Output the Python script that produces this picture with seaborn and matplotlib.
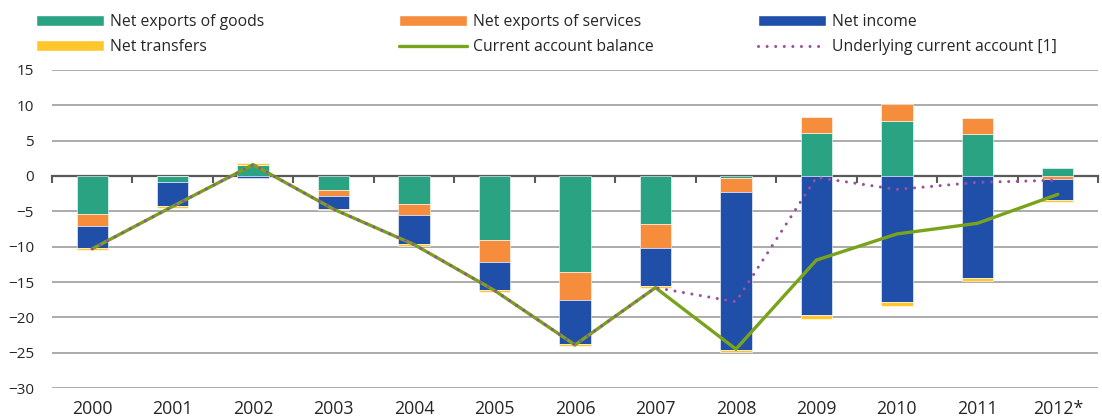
import numpy as np
import matplotlib
matplotlib.use("Agg")
import matplotlib.pyplot as plt
import seaborn as sns
from matplotlib.patches import Patch
from matplotlib.lines import Line2D

years = ["2000", "2001", "2002", "2003", "2004", "2005", "2006",
         "2007", "2008", "2009", "2010", "2011", "2012*"]
goods = [-5.4, -0.9, 1.5, -2.0, -4.0, -9.0, -13.6, -6.8, -0.3, 6.1, 7.8, 5.9, 1.1]
services = [-1.7, 0.0, 0.0, -0.9, -1.45, -3.2, -4.0, -3.4, -2.0, 2.3, 2.4, 2.3, -0.4]
income = [-3.1, -3.4, -0.3, -1.7, -4.15, -3.9, -6.2, -5.4, -22.3, -19.7, -17.8, -14.4, -3.05]
transfers = [-0.25, -0.25, 0.35, -0.2, -0.25, -0.3, -0.25, -0.2, -0.3, -0.55, -0.6, -0.5, -0.2]
current_account = [-10.3, -4.3, 1.6, -4.7, -9.7, -16.2, -23.9, -15.8, -24.5, -11.9, -8.2, -6.7, -2.6]
underlying = [-10.3, -4.3, 1.6, -4.7, -9.7, -16.2, -23.9, -15.8, -17.8, -0.2, -1.9, -0.9, -0.6]

labels = ["Net exports of goods", "Net exports of services", "Net income",
          "Net transfers", "Current account balance", "Underlying current account [1]"]

C_GOODS = "#2AA383"
C_SERV = "#F58D3D"
C_INC = "#1F4FA8"
C_TRANS = "#FFC72C"
C_CA = "#78A31A"
C_UND = "#9B4F9C"

sns.set_theme(style="white")
plt.rcParams["font.family"] = ["Open Sans", "DejaVu Sans"]

W, H = 1102, 418
fig = plt.figure(figsize=(W / 100, H / 100), dpi=100)
ax = fig.add_axes([52 / W, (H - 388) / H, (1098 - 52) / W, (388 - 70) / H])

n = len(years)
pos = np.zeros(n)
neg = np.zeros(n)
for vals, col in [(goods, C_GOODS), (services, C_SERV), (income, C_INC), (transfers, C_TRANS)]:
    v = np.asarray(vals, dtype=float)
    bottom = np.where(v >= 0, pos, neg)
    sns.barplot(x=years, y=v, bottom=bottom, color=col, width=0.39, saturation=1,
                errorbar=None, ax=ax, zorder=3, edgecolor="white", linewidth=0.4)
    pos = pos + np.where(v >= 0, v, 0)
    neg = neg + np.where(v < 0, v, 0)

xi = np.arange(n)
sns.lineplot(x=xi, y=current_account, color=C_CA, lw=2.4, ax=ax, zorder=5,
             solid_joinstyle="miter")
sns.lineplot(x=xi, y=underlying, color=C_UND, lw=2.2, ax=ax, zorder=6,
             linestyle=(0, (0.01, 2.8)), dash_capstyle="round")

ax.set_xlim(-0.5, n - 0.5)
ax.set_ylim(-30, 15)
ax.set_yticks(range(-30, 16, 5))
ax.set_xticks(range(n), years)
ax.set_xticks(np.arange(-0.5, n, 1), minor=True)
ax.set_xlabel("")
ax.set_ylabel("")
ax.yaxis.grid(True, color="#A5A5A5", lw=1.3)
ax.xaxis.grid(False)
ax.set_axisbelow(True)

for s in ["left", "right", "bottom"]:
    ax.spines[s].set_visible(False)
ax.spines["top"].set_position(("data", 0))
ax.spines["top"].set_color("#595959")
ax.spines["top"].set_linewidth(1.6)
ax.spines["top"].set_zorder(2.6)

ax.tick_params(axis="x", which="major", top=False, bottom=True, length=0, pad=9,
               labelsize=12.8, labelcolor="#262626")
ax.tick_params(axis="x", which="minor", top=True, bottom=False, direction="in",
               length=5, width=1.5, color="#595959")
ax.tick_params(axis="y", length=0, pad=13, labelsize=11, labelcolor="#262626")

fs = 11.3
fpx = fs * 100 / 72
common = dict(frameon=False, fontsize=fs, loc="upper left", borderpad=0, borderaxespad=0,
              handlelength=68 / fpx, handleheight=11.5 / fpx, handletextpad=6 / fpx,
              labelspacing=0.58, labelcolor="#262626")
h_goods = Patch(facecolor=C_GOODS)
h_serv = Patch(facecolor=C_SERV)
h_inc = Patch(facecolor=C_INC)
h_trans = Patch(facecolor=C_TRANS)
h_ca = Line2D([], [], color=C_CA, lw=2.4)
h_und = Line2D([], [], color=C_UND, lw=2.2, linestyle=(0, (0.01, 2.8)), dash_capstyle="round")

top = 1 - 14 / H
for x0, hs, ls in [(36, [h_goods, h_trans], [labels[0], labels[3]]),
                   (399, [h_serv, h_ca], [labels[1], labels[4]]),
                   (758, [h_inc, h_und], [labels[2], labels[5]])]:
    fig.legend(hs, ls, bbox_to_anchor=(x0 / W, top), **common)

fig.savefig("out.png", dpi=100)
